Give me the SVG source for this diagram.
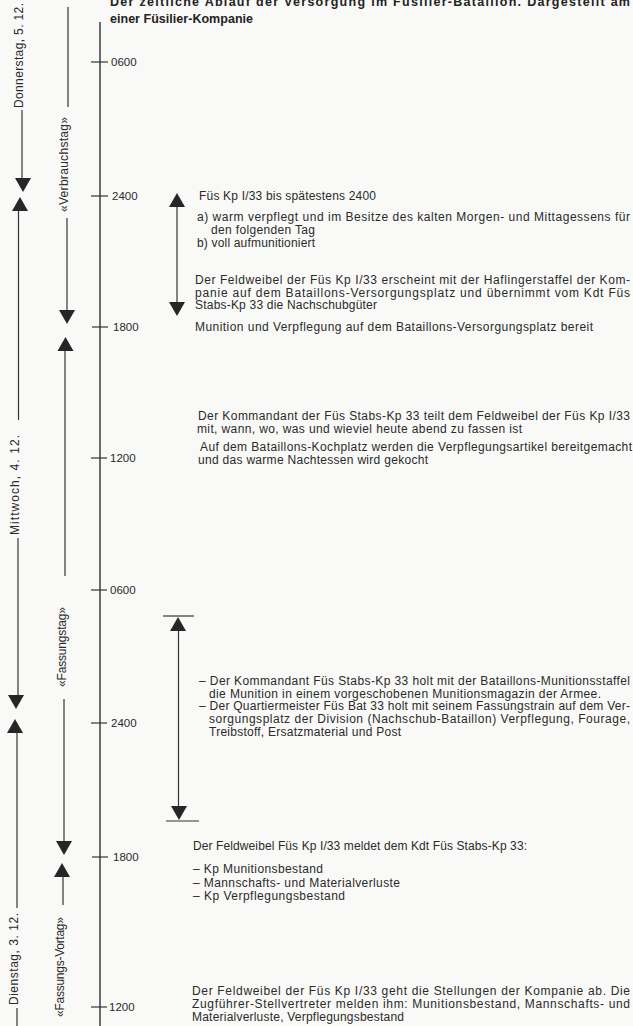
<svg xmlns="http://www.w3.org/2000/svg" width="633" height="1026" viewBox="0 0 633 1026">
<style>
  .t { font-family: "Liberation Sans", Arial, sans-serif; font-size: 12px; fill: #2a2a2a; }
  .r { font-family: "Liberation Sans", Arial, sans-serif; font-size: 12px; fill: #2a2a2a; }
  .n { font-family: "Liberation Sans", Arial, sans-serif; font-size: 11.5px; fill: #2a2a2a; }
  .title { font-family: "Liberation Sans", Arial, sans-serif; font-size: 12.5px; font-weight: bold; fill: #232323; }
  .ln { stroke: #333; stroke-width: 1.2; fill: none; }
  .ax { stroke: #333; stroke-width: 1.4; fill: none; }
  .head { fill: #262626; }
</style>
<defs>
  <polygon id="dn" points="-8,0 8,0 0,14" class="head"/>
  <polygon id="up" points="-8,0 8,0 0,-14" class="head"/>
</defs>
<rect width="633" height="1026" fill="#f9f9f7"/>

<g id="title">
  <text class="title" x="110" y="6" textLength="520" lengthAdjust="spacing">Der zeitliche Ablauf der Versorgung im Füsilier-Bataillon. Dargestellt am</text>
  <text class="title" x="110" y="23" textLength="143" lengthAdjust="spacing">einer Füsilier-Kompanie</text>
</g>

<g id="time-axis">
  <line class="ax" x1="100" y1="22" x2="100" y2="1026"/>
  <line class="ln" x1="91" y1="62" x2="108" y2="62"/>
  <line class="ln" x1="91" y1="196" x2="108" y2="196"/>
  <line class="ln" x1="92" y1="327" x2="108" y2="327"/>
  <line class="ln" x1="91" y1="458" x2="107" y2="458"/>
  <line class="ln" x1="91" y1="590" x2="107" y2="590"/>
  <line class="ln" x1="91" y1="723" x2="107" y2="723"/>
  <line class="ln" x1="92" y1="857" x2="108" y2="857"/>
  <line class="ln" x1="91" y1="1007" x2="107" y2="1007"/>
  <text class="n" x="111" y="66">0600</text>
  <text class="n" x="112" y="200">2400</text>
  <text class="n" x="113" y="331">1800</text>
  <text class="n" x="110" y="462">1200</text>
  <text class="n" x="110" y="594">0600</text>
  <text class="n" x="111" y="727">2400</text>
  <text class="n" x="113" y="861">1800</text>
  <text class="n" x="109" y="1011">1200</text>
</g>

<g id="day-labels">
  <text class="r" transform="translate(23,108) rotate(-90)" textLength="105" lengthAdjust="spacing">Donnerstag, 5. 12.</text>
  <text class="r" transform="translate(19,535) rotate(-90)" textLength="100" lengthAdjust="spacing">Mittwoch, 4. 12.</text>
  <text class="r" transform="translate(18,1005) rotate(-90)" textLength="92" lengthAdjust="spacing">Dienstag, 3. 12.</text>
</g>

<g id="phase-labels">
  <text class="r" transform="translate(68,212) rotate(-90)" textLength="95" lengthAdjust="spacing">«Verbrauchstag»</text>
  <text class="r" transform="translate(66,687) rotate(-90)" textLength="80" lengthAdjust="spacing">«Fassungstag»</text>
  <text class="r" transform="translate(64,1017) rotate(-90)" textLength="100" lengthAdjust="spacing">«Fassungs-Vortag»</text>
</g>

<g id="connectors">
  <!-- day column -->
  <line class="ln" x1="22" y1="110" x2="22" y2="180"/>
  <use href="#dn" x="23" y="178"/>
  <use href="#up" x="20" y="211"/>
  <line class="ln" x1="18.5" y1="211" x2="18.5" y2="420"/>
  <line class="ln" x1="18" y1="538" x2="18" y2="696"/>
  <use href="#dn" x="16" y="695"/>
  <use href="#up" x="15" y="733"/>
  <line class="ln" x1="17" y1="733" x2="17" y2="908"/>
  <line class="ln" x1="17" y1="1008" x2="17" y2="1026"/>
  <!-- phase column -->
  <line class="ln" x1="68" y1="7" x2="68" y2="107"/>
  <line class="ln" x1="67" y1="218" x2="67" y2="312"/>
  <use href="#dn" x="67" y="310"/>
  <use href="#up" x="65.5" y="351"/>
  <line class="ln" x1="65" y1="351" x2="65" y2="576"/>
  <line class="ln" x1="64" y1="699" x2="64" y2="842"/>
  <use href="#dn" x="64" y="841"/>
  <use href="#up" x="62" y="877"/>
  <line class="ln" x1="63" y1="877" x2="63" y2="905"/>
  <!-- event arrow 1 -->
  <use href="#up" x="177" y="207"/>
  <line class="ln" x1="177" y1="207" x2="177" y2="303"/>
  <use href="#dn" x="177" y="302"/>
  <!-- event arrow 2 -->
  <line class="ln" x1="163" y1="616" x2="194" y2="616"/>
  <use href="#up" x="178" y="631"/>
  <line class="ln" x1="178.5" y1="631" x2="178.5" y2="806"/>
  <use href="#dn" x="179" y="806"/>
  <line class="ln" x1="166" y1="821" x2="199" y2="821"/>
</g>

<g id="block-verbrauch">
  <text class="t" x="199" y="200" textLength="177" lengthAdjust="spacing">Füs Kp I/33 bis spätestens 2400</text>
  <text class="t" x="197" y="221" textLength="433" lengthAdjust="spacing">a) warm verpflegt und im Besitze des kalten Morgen- und Mittagessens für</text>
  <text class="t" x="211" y="234" textLength="104" lengthAdjust="spacing">den folgenden Tag</text>
  <text class="t" x="197" y="247" textLength="118" lengthAdjust="spacing">b) voll aufmunitioniert</text>
  <text class="t" x="195" y="284" textLength="435" lengthAdjust="spacing">Der Feldweibel der Füs Kp I/33 erscheint mit der Haflingerstaffel der Kom-</text>
  <text class="t" x="195" y="297" textLength="435" lengthAdjust="spacing">panie auf dem Bataillons-Versorgungsplatz und übernimmt vom Kdt Füs</text>
  <text class="t" x="195" y="309" textLength="182" lengthAdjust="spacing">Stabs-Kp 33 die Nachschubgüter</text>
</g>

<g id="block-bereit">
  <text class="t" x="195" y="331" textLength="398" lengthAdjust="spacing">Munition und Verpflegung auf dem Bataillons-Versorgungsplatz bereit</text>
</g>

<g id="block-mittag">
  <text class="t" x="198" y="420" textLength="432" lengthAdjust="spacing">Der Kommandant der Füs Stabs-Kp 33 teilt dem Feldweibel der Füs Kp I/33</text>
  <text class="t" x="197" y="433" textLength="325" lengthAdjust="spacing">mit, wann, wo, was und wieviel heute abend zu fassen ist</text>
  <text class="t" x="200" y="451" textLength="432" lengthAdjust="spacing">Auf dem Bataillons-Kochplatz werden die Verpflegungsartikel bereitgemacht</text>
  <text class="t" x="198" y="464" textLength="230" lengthAdjust="spacing">und das warme Nachtessen wird gekocht</text>
</g>

<g id="block-fassung">
  <text class="t" x="199" y="685" textLength="431" lengthAdjust="spacing">– Der Kommandant Füs Stabs-Kp 33 holt mit der Bataillons-Munitionsstaffel</text>
  <text class="t" x="209" y="698" textLength="392" lengthAdjust="spacing">die Munition in einem vorgeschobenen Munitionsmagazin der Armee.</text>
  <text class="t" x="199" y="710" textLength="431" lengthAdjust="spacing">– Der Quartiermeister Füs Bat 33 holt mit seinem Fassungstrain auf dem Ver-</text>
  <text class="t" x="209" y="723" textLength="421" lengthAdjust="spacing">sorgungsplatz der Division (Nachschub-Bataillon) Verpflegung, Fourage,</text>
  <text class="t" x="209" y="736" textLength="192" lengthAdjust="spacing">Treibstoff, Ersatzmaterial und Post</text>
</g>

<g id="block-meldung">
  <text class="t" x="193" y="850" textLength="334" lengthAdjust="spacing">Der Feldweibel Füs Kp I/33 meldet dem Kdt Füs Stabs-Kp 33:</text>
  <text class="t" x="193" y="873" textLength="130" lengthAdjust="spacing">– Kp Munitionsbestand</text>
  <text class="t" x="193" y="887" textLength="207" lengthAdjust="spacing">– Mannschafts- und Materialverluste</text>
  <text class="t" x="193" y="900" textLength="152" lengthAdjust="spacing">– Kp Verpflegungsbestand</text>
</g>

<g id="block-stellungen">
  <text class="t" x="192" y="995" textLength="438" lengthAdjust="spacing">Der Feldweibel der Füs Kp I/33 geht die Stellungen der Kompanie ab. Die</text>
  <text class="t" x="192" y="1008" textLength="438" lengthAdjust="spacing">Zugführer-Stellvertreter melden ihm: Munitionsbestand, Mannschafts- und</text>
  <text class="t" x="192" y="1021" textLength="212" lengthAdjust="spacing">Materialverluste, Verpflegungsbestand</text>
</g>
</svg>
